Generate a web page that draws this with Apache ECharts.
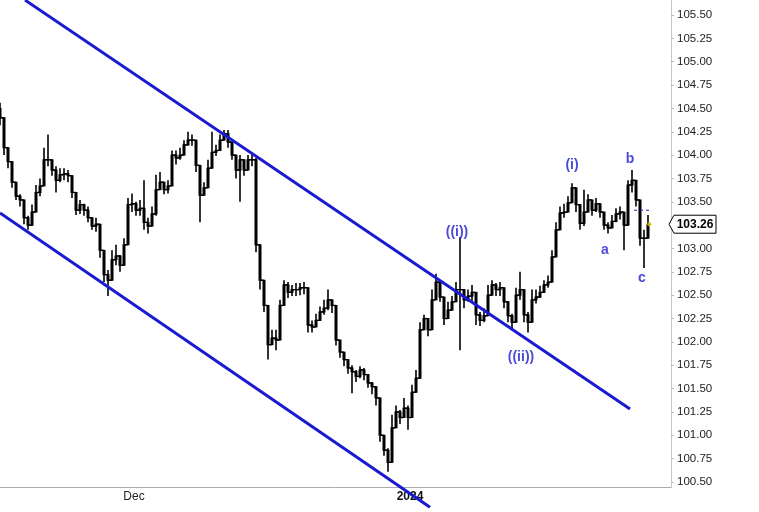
<!DOCTYPE html>
<html><head><meta charset="utf-8">
<script src="https://cdn.jsdelivr.net/npm/echarts@6/dist/echarts.min.js"></script>
<style>html,body{margin:0;padding:0;background:#fff}#c{width:759px;height:512px}</style>
</head><body><div id="c"></div><script>
// Bar closes (one bar per slot), highs and lows
const closes=[104.40,104.08,103.93,103.71,103.56,103.52,103.33,103.25,103.39,103.60,
103.67,103.95,103.95,103.84,103.73,103.79,103.80,103.78,103.60,103.41,
103.47,103.41,103.33,103.24,103.26,102.98,102.72,102.66,102.88,102.92,
102.82,103.04,103.47,103.48,103.41,103.43,103.28,103.24,103.37,103.63,
103.71,103.63,103.67,104.00,103.97,104.00,104.11,104.16,104.16,103.89,
103.57,103.65,103.86,104.03,104.05,104.16,104.23,104.14,104.00,103.84,
103.95,103.84,103.95,103.95,103.04,102.66,102.39,101.97,102.04,102.02,
102.39,102.61,102.53,102.56,102.56,102.58,102.58,102.18,102.16,102.23,
102.32,102.36,102.45,102.39,102.02,101.89,101.81,101.72,101.68,101.63,
101.70,101.65,101.56,101.52,101.40,101.00,100.84,100.71,101.08,101.25,
101.19,101.29,101.19,101.46,101.61,102.13,102.25,102.13,102.45,102.64,
102.48,102.25,102.34,102.43,102.56,102.56,102.45,102.49,102.53,102.29,
102.23,102.28,102.50,102.61,102.56,102.58,102.43,102.28,102.21,102.50,
102.56,102.29,102.21,102.45,102.48,102.53,102.61,102.64,102.91,103.20,
103.38,103.39,103.49,103.65,103.47,103.27,103.39,103.52,103.41,103.48,
103.39,103.25,103.22,103.29,103.37,103.39,103.25,103.68,103.73,103.52,
103.11,103.11,103.26];
const highs=[104.56,104.22,104.03,103.84,103.65,103.58,103.43,103.35,103.47,103.68,
103.75,104.08,104.22,103.95,103.88,103.86,103.86,103.84,103.73,103.52,
103.52,103.48,103.45,103.33,103.33,103.18,102.86,102.77,102.98,103.04,
102.93,103.11,103.54,103.59,103.50,103.52,103.73,103.33,103.45,103.79,
103.82,103.71,103.73,104.05,104.05,104.08,104.16,104.25,104.22,104.11,
103.73,103.71,103.95,104.25,104.11,104.22,104.27,104.27,104.10,103.95,
104.00,103.92,104.00,104.00,103.97,102.93,102.61,102.34,102.13,102.13,
102.45,102.66,102.64,102.61,102.63,102.63,102.64,102.56,102.23,102.30,
102.38,102.45,102.56,102.45,102.18,101.97,101.89,101.81,101.75,101.70,
101.74,101.72,101.63,101.57,101.48,101.32,100.95,100.86,101.22,101.32,
101.27,101.40,101.32,101.54,101.70,102.21,102.29,102.25,102.56,102.73,
102.58,102.39,102.43,102.49,102.64,103.12,102.53,102.56,102.61,102.39,
102.32,102.36,102.61,102.66,102.63,102.64,102.50,102.36,102.30,102.58,
102.75,102.38,102.32,102.56,102.56,102.60,102.66,102.71,102.98,103.28,
103.45,103.48,103.56,103.70,103.57,103.37,103.63,103.58,103.50,103.54,
103.45,103.36,103.28,103.36,103.43,103.45,103.39,103.73,103.84,103.60,
103.47,103.20,103.36];
const lows=[104.32,104.00,103.86,103.65,103.52,103.45,103.26,103.20,103.24,103.39,
103.56,103.78,103.88,103.78,103.60,103.71,103.73,103.71,103.54,103.36,
103.37,103.35,103.28,103.20,103.18,102.90,102.64,102.49,102.68,102.82,
102.75,102.83,103.09,103.39,103.35,103.35,103.20,103.16,103.26,103.35,
103.65,103.58,103.59,103.75,103.90,103.95,104.00,104.10,104.10,103.82,
103.28,103.57,103.68,103.95,103.99,104.08,104.16,104.08,103.95,103.75,
103.50,103.78,103.86,103.88,102.96,102.56,102.32,101.81,101.97,101.91,
102.18,102.50,102.47,102.49,102.49,102.50,102.51,102.10,102.10,102.17,
102.25,102.29,102.34,102.31,101.96,101.83,101.74,101.66,101.45,101.57,
101.61,101.59,101.51,101.44,101.32,100.93,100.78,100.61,100.76,101.16,
101.12,101.21,101.06,101.29,101.51,101.91,102.18,102.06,102.21,102.50,
102.43,102.18,102.25,102.34,102.47,101.91,102.36,102.43,102.43,102.18,
102.17,102.21,102.43,102.53,102.49,102.49,102.36,102.21,102.13,102.39,
102.45,102.21,102.10,102.34,102.41,102.47,102.53,102.58,102.77,103.00,
103.28,103.33,103.41,103.52,103.39,103.20,103.24,103.43,103.35,103.39,
103.33,103.20,103.16,103.22,103.28,103.31,102.98,103.41,103.60,103.45,
103.03,102.79,103.18];
const firstOpen=104.50;
const yTickLabels=['100.50','100.75','101.00','101.25','101.50','101.75','102.00','102.25','102.50','102.75','103.00','103.25','103.50','103.75','104.00','104.25','104.50','104.75','105.00','105.25','105.50'];
const xTickLabels=['Dec','2024'];
const xTickIndex=[33.5,102.5];
const upperChannel=[[6.25,105.66],[157.5,101.28]];
const lowerChannel=[[0,103.38],[107.5,100.23]];
const waveLabels=[['((i))',114.25,103.17],['((ii))',130.25,101.84],['(i)',143,103.89],['a',151.25,102.98],['b',157.5,103.96],['c',160.5,102.68]];
const lastPrice=103.26;
const dashedLevel=[[158.5,103.41],[162.5,103.41]];

const bars=closes.map((c,i)=>[i, i===0?firstOpen:closes[i-1], c, lows[i], highs[i]]);
const BLUE='#1a1ad2';
const FONT='"Liberation Sans", Arial, sans-serif';
const chart=echarts.init(document.getElementById('c'));
chart.setOption({
  animation:false,
  backgroundColor:'#fff',
  grid:{left:0,right:88,top:0,bottom:25},
  xAxis:{type:'value',min:0,max:167.75,
    axisLine:{show:true,onZero:false,lineStyle:{color:'#aaa',width:1}},
    axisTick:{show:false},splitLine:{show:false},
    axisLabel:{customValues:xTickIndex,margin:4,color:'#222',fontFamily:FONT,fontSize:12,
      formatter:v=>{const k=xTickIndex.indexOf(v);const t=xTickLabels[k]||'';return /^\d{4}$/.test(t)?'{b|'+t+'}':t;},
      rich:{b:{fontWeight:'bold',fontFamily:FONT,fontSize:12,color:'#111'}}}},
  yAxis:{type:'value',position:'right',min:100.446,max:105.661,
    axisLine:{show:true,onZero:false,lineStyle:{color:'#bbb',type:'dotted',width:1}},
    axisTick:{show:true,customValues:yTickLabels.map(Number),length:3,lineStyle:{color:'#bbb'}},
    splitLine:{show:false},
    axisLabel:{customValues:yTickLabels.map(Number),formatter:v=>v.toFixed(2),margin:6,color:'#222',fontFamily:FONT,fontSize:11.5}},
  series:[
    {type:'custom',data:bars,clip:false,z:3,
      renderItem:(p,api)=>{
        const x=api.value(0),o=api.value(1),c=api.value(2),l=api.value(3),h=api.value(4);
        const pH=api.coord([x,Math.max(h,o,c)]),pL=api.coord([x,Math.min(l,o,c)]);
        const pO=api.coord([x,o]),pC=api.coord([x,c]);
        return {type:'group',children:[
          {type:'line',shape:{x1:pH[0],y1:pH[1],x2:pL[0],y2:pL[1]},style:{stroke:'#000',lineWidth:1.6}},
          {type:'rect',shape:{x:pO[0]-1.5,y:Math.min(pO[1],pC[1])-0.5,width:3,height:Math.abs(pO[1]-pC[1])+1},style:{fill:'#000'}},
          {type:'line',shape:{x1:pO[0]-3,y1:pO[1],x2:pO[0],y2:pO[1]},style:{stroke:'#000',lineWidth:1.2}},
          {type:'line',shape:{x1:pC[0],y1:pC[1],x2:pC[0]+3,y2:pC[1]},style:{stroke:'#000',lineWidth:1.2}}
        ]};
      }},
    {type:'line',data:upperChannel,showSymbol:false,clip:false,z:4,lineStyle:{color:BLUE,width:3}},
    {type:'line',data:lowerChannel,showSymbol:false,clip:false,z:4,lineStyle:{color:BLUE,width:3}},
    {type:'line',data:dashedLevel,showSymbol:false,clip:false,z:4,lineStyle:{color:BLUE,width:1,type:[3,3]}},
    {type:'scatter',data:[[162.3,lastPrice]],symbolSize:4,itemStyle:{color:'#e6cf00'},z:5},
    {type:'scatter',data:waveLabels.map(w=>({name:w[0],value:[w[1],w[2]]})),symbolSize:1,z:6,
      itemStyle:{color:'rgba(0,0,0,0)'},
      label:{show:true,position:'inside',formatter:'{b}',color:BLUE,fontWeight:'bold',fontSize:14,fontFamily:FONT}},
    {type:'custom',data:[[167.75,lastPrice]],clip:false,z:7,
      renderItem:(p,api)=>{
        const pt=api.coord([api.value(0),api.value(1)]);
        const x0=pt[0]-2,y=pt[1];
        return {type:'group',children:[
          {type:'polygon',shape:{points:[[x0,y],[x0+5,y-9],[x0+47,y-9],[x0+47,y+9],[x0+5,y+9]]},style:{fill:'#fff',stroke:'#000',lineWidth:1}},
          {type:'text',style:{x:x0+26,y:y,text:api.value(1).toFixed(2),align:'center',verticalAlign:'middle',fontWeight:'bold',fontSize:12,fontFamily:FONT,fill:'#000'}}
        ]};
      }}
  ]
});
</script></body></html>
